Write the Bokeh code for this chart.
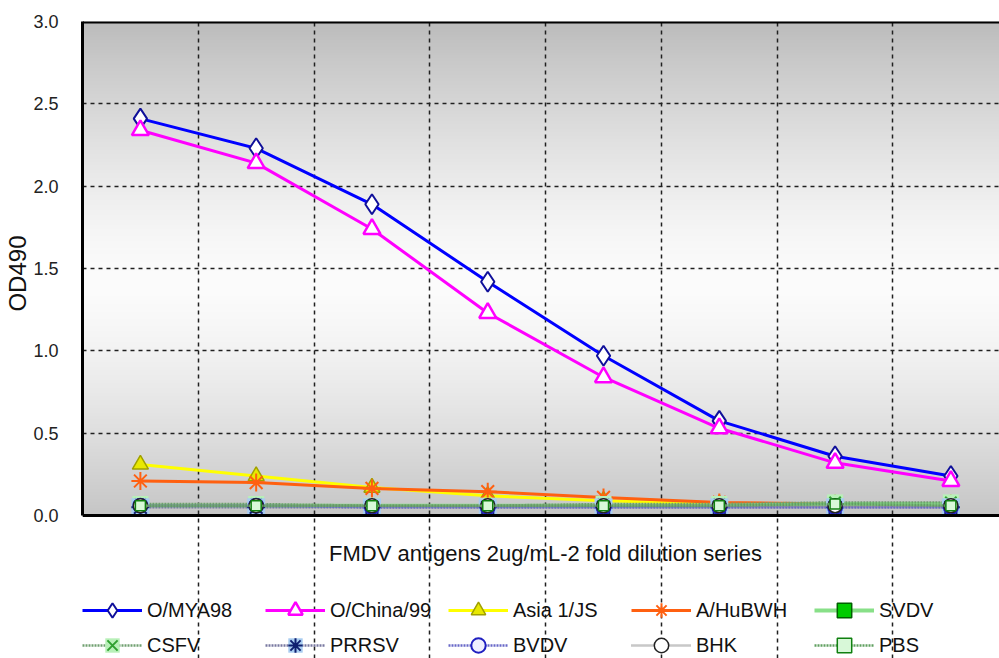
import numpy as np
from bokeh.plotting import figure
from bokeh.models import (Range1d, FixedTicker, PrintfTickFormatter, Legend, LegendItem,
                          Span, Label, Title, ColumnDataSource)
from bokeh.embed import file_html
from bokeh.resources import INLINE

# ---------------- data ----------------
dilution_step = [1, 2, 3, 4, 5, 6, 7, 8]
series_names = ["O/MYA98", "O/China/99", "Asia 1/JS", "A/HuBWH", "SVDV",
                "CSFV", "PRRSV", "BVDV", "BHK", "PBS"]
o_mya98   = [2.41, 2.23, 1.89, 1.42, 0.97, 0.575, 0.36, 0.24]
o_china99 = [2.34, 2.14, 1.74, 1.23, 0.84, 0.53, 0.32, 0.21]
asia1_js  = [0.31, 0.24, 0.17, 0.12, 0.09, 0.07, 0.07, 0.07]
a_hubwh   = [0.21, 0.20, 0.165, 0.145, 0.11, 0.08, 0.07, 0.07]
svdv      = [0.06, 0.06, 0.06, 0.06, 0.06, 0.06, 0.07, 0.07]
csfv      = [0.07, 0.07, 0.06, 0.06, 0.07, 0.07, 0.08, 0.08]
prrsv     = [0.05, 0.05, 0.05, 0.05, 0.05, 0.05, 0.05, 0.05]
bvdv      = [0.06, 0.06, 0.05, 0.05, 0.05, 0.05, 0.05, 0.05]
bhk       = [0.06, 0.06, 0.06, 0.06, 0.06, 0.06, 0.06, 0.06]
pbs       = [0.06, 0.06, 0.06, 0.06, 0.06, 0.06, 0.07, 0.06]
y_ticks = [0.0, 0.5, 1.0, 1.5, 2.0, 2.5, 3.0]
x_label = "FMDV antigens 2ug/mL-2 fold dilution series"
y_label = "OD490"

x = [s - 0.5 for s in dilution_step]

FONT = "Liberation Sans"

# frame runs to the bottom of the figure; the area under y=0 holds the axis title and legend
p = figure(width=999, height=658, output_backend="svg", toolbar_location=None,
           x_range=Range1d(0, 7.92), y_range=Range1d(-0.868, 3.0),
           min_border_left=82, min_border_right=0, min_border_top=21, min_border_bottom=0,
           background_fill_color="white", border_fill_color="white")
p.outline_line_color = None

# gradient background (decorative)
ny = 300
t = np.linspace(0, 1, ny)  # bottom -> top
d = np.abs(t - 0.47) / 0.53
g = (252 - 64 * d ** 1.4).clip(0, 255).astype(np.uint8)
img = np.zeros((ny, 1), dtype=np.uint32)
view = img.view(dtype=np.uint8).reshape((ny, 1, 4))
view[:, 0, 0] = g
view[:, 0, 1] = g
view[:, 0, 2] = g
view[:, 0, 3] = 255
p.image_rgba(image=[img], x=0, y=0, dw=8, dh=3, level="image")

# grids
p.xaxis.ticker = FixedTicker(ticks=[1, 2, 3, 4, 5, 6, 7])
p.yaxis.ticker = FixedTicker(ticks=y_ticks)
p.yaxis.formatter = PrintfTickFormatter(format="%.1f")
for gr in (p.xgrid, p.ygrid):
    gr.grid_line_color = "#202020"
    gr.grid_line_dash = "4 4"
    gr.grid_line_width = 1.5
p.xgrid.bounds = (0, 3)

p.xaxis.visible = False
p.add_layout(Span(location=0, dimension="width", line_color="black", line_width=3))
p.add_layout(Span(location=2.995, dimension="width", line_color="black", line_width=2.5))

p.yaxis.bounds = (0, 3)
p.yaxis.major_tick_line_color = None
p.yaxis.minor_tick_line_color = None
p.yaxis.axis_line_width = 3
p.yaxis.axis_line_color = "black"
p.yaxis.major_label_text_font = FONT
p.yaxis.major_label_text_font_size = "18px"
p.yaxis.major_label_text_color = "#222222"
p.yaxis.major_label_standoff = 18

p.add_layout(Title(text=y_label, align="right", offset=214, standoff=0,
                   text_font=FONT, text_font_style="normal", text_font_size="24px",
                   text_color="#111111"), "left")

p.add_layout(Label(x=463, y=105, x_units="screen", y_units="screen", text=x_label,
                   text_align="center", text_baseline="middle", text_font=FONT,
                   text_font_size="22px", text_color="#111111"))

items = []

def add(name, ys, line_color, line_width, line_dash, markers):
    src = ColumnDataSource(dict(x=x, y=ys))
    rs = [p.line("x", "y", source=src, line_color=line_color, line_width=line_width,
                 line_dash=line_dash)]
    for m in markers:
        rs.append(p.scatter("x", "y", source=src, **m))
    items.append(LegendItem(label=name, renderers=rs))

add("O/MYA98", o_mya98, "#0000ff", 3, "solid",
    [dict(marker="diamond", size=20, fill_color="white", line_color="#10109a", line_width=2)])
add("O/China/99", o_china99, "#ff00ff", 3, "solid",
    [dict(marker="triangle", size=17, fill_color="white", line_color="#ff00ff", line_width=2.5)])
add("Asia 1/JS", asia1_js, "#ffff00", 3, "solid",
    [dict(marker="triangle", size=16, fill_color="#e8e800", line_color="#a0a000", line_width=1.5)])
add("A/HuBWH", a_hubwh, "#ff6010", 3, "solid",
    [dict(marker="asterisk", size=18, line_color="#ff6010", line_width=2)])
add("SVDV", svdv, "#88e088", 4, "solid",
    [dict(marker="square", size=13, fill_color="#00cc00", line_color="#006000", line_width=1.5)])
add("CSFV", csfv, "#70a070", 2.5, "2 1",
    [dict(marker="square", size=16, fill_color="#b8f0b8", line_color=None),
     dict(marker="x", size=16, line_color="#30a030", line_width=2)])
add("PRRSV", prrsv, "#7878a0", 2.5, "2 1",
    [dict(marker="square", size=18, fill_color="#a8ccf0", line_color=None),
     dict(marker="asterisk", size=18, line_color="#102070", line_width=2)])
add("BVDV", bvdv, "#6868c8", 2.5, "2 1",
    [dict(marker="circle", size=14, fill_color="#f0f0ff", line_color="#2020c0", line_width=2)])
add("BHK", bhk, "#909090", 2.5, "1 1",
    [dict(marker="circle", size=14, fill_color="white", line_color="#222222", line_width=1.5)])
add("PBS", pbs, "#60a060", 2.5, "2 1",
    [dict(marker="square", size=10, fill_color="#d8f8d8", line_color="#108010", line_width=1.5)])

common = dict(orientation="horizontal",
              glyph_width=60, glyph_height=36, label_height=36, label_width=115,
              label_standoff=5, spacing=3, padding=0, margin=0,
              label_text_font=FONT, label_text_font_size="20px",
              label_text_color="#111111",
              border_line_color=None, background_fill_alpha=0)
legend1 = Legend(items=items[:5], location=(0, 30), **common)
legend2 = Legend(items=items[5:], location=(0, -5), **common)
p.add_layout(legend1, "center")
p.add_layout(legend2, "center")

open("out.html", "w").write(file_html(p, INLINE))
